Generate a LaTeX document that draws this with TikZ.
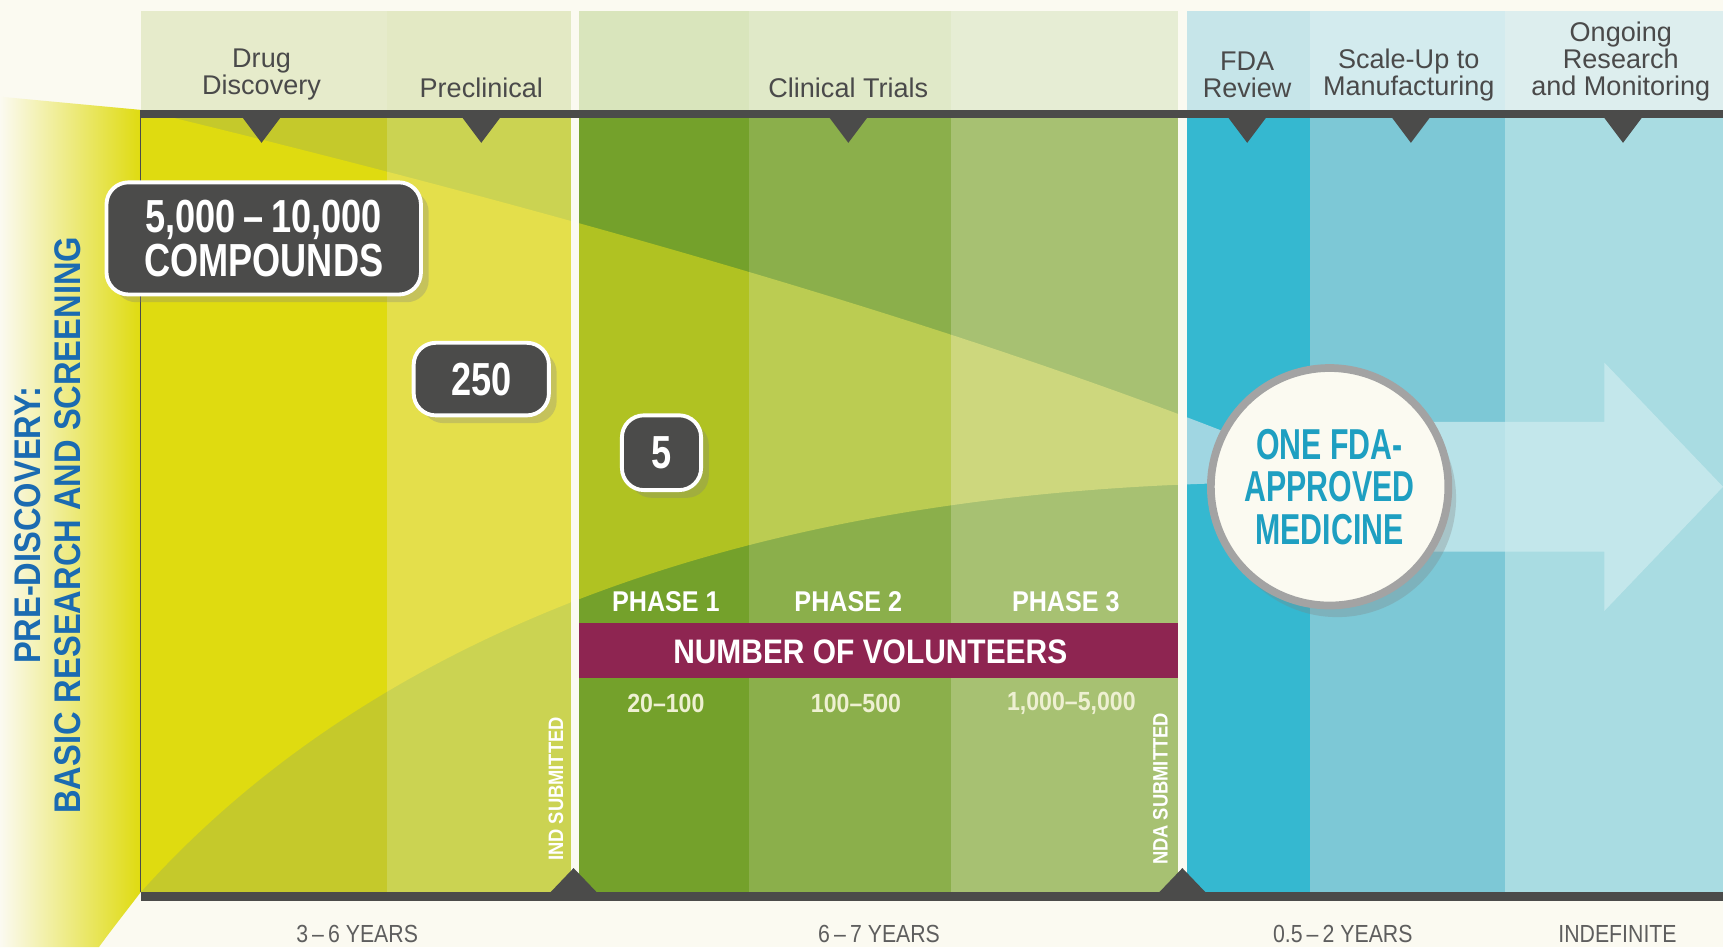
\documentclass[tikz,border=0pt]{standalone}
\usepackage{fontspec}
\setmainfont{Liberation Sans}
\newfontfamily\stagefont{Liberation Sans}
\newfontfamily\yearfont[FakeStretch=0.86]{Liberation Sans}
\newfontfamily\phasefont[FakeStretch=0.88]{Liberation Sans Bold}
\newfontfamily\countfont[FakeStretch=0.78]{Liberation Sans Bold}
\newfontfamily\medfont[FakeStretch=0.7]{Liberation Sans Bold}
\usepackage{tikz}
\usetikzlibrary{shadows}
\definecolor{paper}{HTML}{FBFAF1}
\definecolor{ink}{HTML}{4B4B4A}
\definecolor{headink}{HTML}{4A4A4A}
\definecolor{yearink}{HTML}{5E5E5E}
\definecolor{headdisc}{HTML}{E6EBCB}
\definecolor{headpre}{HTML}{E3E9C4}
\definecolor{headone}{HTML}{D9E5BC}
\definecolor{headtwo}{HTML}{E0E9C8}
\definecolor{headthree}{HTML}{E6EDD4}
\definecolor{headfda}{HTML}{C6E5E9}
\definecolor{headscale}{HTML}{D3EBEE}
\definecolor{headongo}{HTML}{DDEEEE}
\definecolor{discout}{HTML}{C5C92B}
\definecolor{discin}{HTML}{DFDB10}
\definecolor{preout}{HTML}{CBD352}
\definecolor{prein}{HTML}{E4DF4B}
\definecolor{oneout}{HTML}{74A12B}
\definecolor{onein}{HTML}{B0C222}
\definecolor{twoout}{HTML}{8BAF4B}
\definecolor{twoin}{HTML}{BBCC52}
\definecolor{threeout}{HTML}{A7C172}
\definecolor{threein}{HTML}{CDD77D}
\definecolor{fda}{HTML}{35B8D0}
\definecolor{fdain}{HTML}{A0D6E2}
\definecolor{scaleup}{HTML}{7DC8D6}
\definecolor{ongo}{HTML}{A9DCE2}
\definecolor{arrowcyan}{HTML}{CDEBEF}
\definecolor{volunteer}{HTML}{8E2551}
\definecolor{preblue}{HTML}{1B6BB1}
\definecolor{medteal}{HTML}{1E9FC1}
\definecolor{ring}{HTML}{A3A3A3}
\definecolor{cream}{HTML}{EEF0D2}

\begin{document}
\begin{tikzpicture}[x=0.01cm,y=-0.01cm,
  stagelabel/.style={font=\stagefont\fontsize{7}{6.9}\selectfont,text=headink,align=center,inner sep=0},
  yearlabel/.style={font=\yearfont\fontsize{6.4}{7}\selectfont,text=yearink,inner sep=0},
  phaselabel/.style={font=\phasefont\fontsize{7.4}{8}\selectfont,text=white,inner sep=0},
  countlabel/.style={font=\phasefont\fontsize{6.8}{7}\selectfont,text=cream,inner sep=0},
  filedlabel/.style={font=\phasefont\fontsize{5.4}{6}\selectfont,text=white,rotate=90,inner sep=0},
  predisc/.style={font=\phasefont\fontsize{9.6}{10}\selectfont,text=preblue,rotate=90,inner sep=0},
  countbox/.style={fill=ink,draw=white,line width=1pt,rounded corners=0.2cm,text=white,align=center,
    font=\countfont\fontsize{12}{11.4}\selectfont,inner sep=0,
    drop shadow={shadow xshift=2pt,shadow yshift=-2pt,opacity=0.3}},
  approved/.style={circle,fill=paper,draw=ring,line width=2pt,minimum size=2.16cm,inner sep=0,
    align=center,text=medteal,font=\medfont\fontsize{11.2}{11}\selectfont,
    drop shadow={shadow xshift=2pt,shadow yshift=-3pt,opacity=0.3}}]
\useasboundingbox (0,0) rectangle (1568,862);
\fill[paper] (0,0) rectangle (1568,862);

\fill[headdisc] (128,10) rectangle (352,100);
\fill[headpre] (352,10) rectangle (520,100);
\fill[headone] (527,10) rectangle (682,100);
\fill[headtwo] (682,10) rectangle (865,100);
\fill[headthree] (865,10) rectangle (1072,100);
\fill[headfda] (1080,10) rectangle (1192,100);
\fill[headscale] (1192,10) rectangle (1370,100);
\fill[headongo] (1370,10) rectangle (1568,100);

\fill[discout] (128,100) rectangle (352,812);
\fill[preout] (352,100) rectangle (520,812);
\fill[oneout] (527,100) rectangle (682,812);
\fill[twoout] (682,100) rectangle (865,812);
\fill[threeout] (865,100) rectangle (1072,812);
\fill[fda] (1080,100) rectangle (1192,812);
\fill[scaleup] (1192,100) rectangle (1370,812);
\fill[ongo] (1370,100) rectangle (1568,812);

\begin{scope}
\clip (128,100) .. controls (500,190) and (850,290) .. (1112,392) -- (1104,440)
  .. controls (600,455) and (300,620) .. (128,812) -- cycle;
\fill[discin] (128,100) rectangle (352,812);
\fill[prein] (352,100) rectangle (520,812);
\fill[onein] (527,100) rectangle (682,812);
\fill[twoin] (682,100) rectangle (865,812);
\fill[threein] (865,100) rectangle (1072,812);
\fill[fdain] (1080,100) rectangle (1192,812);
\end{scope}

\shade[left color=paper,right color=discin] (0,88) -- (128,100) -- (128,812)
  .. controls (112,833) and (100,848) .. (90,862) -- (0,862) -- cycle;

\fill[arrowcyan,opacity=0.75] (1200,384) -- (1460,384) -- (1460,330) -- (1568,443)
  -- (1460,556) -- (1460,502) -- (1200,502) -- cycle;

\fill[ink] (128,100) rectangle (1568,107);
\fill[ink] (128,812) rectangle (1568,820);
\draw[ink,line width=0.4pt] (128,100) -- (128,812);
\fill[ink] (220,106) -- (256,106) -- (238,130) -- cycle;
\fill[ink] (420,106) -- (456,106) -- (438,130) -- cycle;
\fill[ink] (754,106) -- (790,106) -- (772,130) -- cycle;
\fill[ink] (1117,106) -- (1153,106) -- (1135,130) -- cycle;
\fill[ink] (1266,106) -- (1302,106) -- (1284,130) -- cycle;
\fill[ink] (1459,106) -- (1495,106) -- (1477,130) -- cycle;
\fill[ink] (500,813) -- (544,813) -- (522,790) -- cycle;
\fill[ink] (1054,813) -- (1098,813) -- (1076,790) -- cycle;

\fill[volunteer] (527,567) rectangle (1072,617);

\node[stagelabel] (disc) at (238,68) {Drug\\Discovery};
\node[stagelabel] (precl) at (438,80) {Preclinical};
\node[stagelabel] (trials) at (772,80) {Clinical Trials};
\node[stagelabel] (review) at (1135,68) {FDA\\Review};
\node[stagelabel] (scale) at (1282,68) {Scale-Up to\\Manufacturing};
\node[stagelabel] (ongoing) at (1475,56) {Ongoing\\Research\\and Monitoring};

\node[predisc] (pre) at (25,478) {PRE-DISCOVERY:};
\node[predisc] (basic) at (62,478) {BASIC RESEARCH AND SCREENING};

\node[countbox,minimum width=2.86cm,minimum height=1.02cm] (many) at (240,217) {5,000\,–\,10,000\\COMPOUNDS};
\node[countbox,minimum width=1.23cm,minimum height=0.66cm] (few) at (438,345) {250};
\node[countbox,minimum width=0.72cm,minimum height=0.68cm] (five) at (602,412) {5};
\node[approved] (one) at (1210,443) {ONE FDA-\\APPROVED\\MEDICINE};

\node[phaselabel] (p1) at (606,548) {PHASE 1};
\node[phaselabel] (p2) at (772,548) {PHASE 2};
\node[phaselabel] (p3) at (970,548) {PHASE 3};
\node[phaselabel,font=\phasefont\fontsize{8.8}{9}\selectfont] (vol) at (792,593) {NUMBER OF VOLUNTEERS};
\node[countlabel] (r1) at (606,640) {20–100};
\node[countlabel] (r2) at (779,640) {100–500};
\node[countlabel] (r3) at (975,640) {1,000–5,000};
\node[filedlabel] (ind) at (506,718) {IND SUBMITTED};
\node[filedlabel] (nda) at (1056,718) {NDA SUBMITTED};

\node[yearlabel] (y1) at (325,850) {3\,–\,6 YEARS};
\node[yearlabel] (y2) at (800,850) {6\,–\,7 YEARS};
\node[yearlabel] (y3) at (1222,850) {0.5\,–\,2 YEARS};
\node[yearlabel] (y4) at (1472,850) {INDEFINITE};
\end{tikzpicture}
\end{document}
